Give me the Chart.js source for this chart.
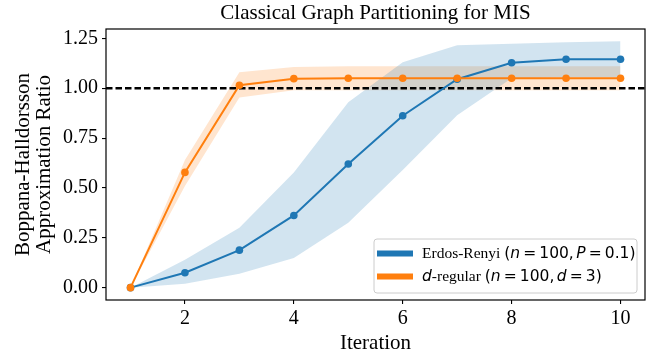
<!DOCTYPE html>
<html>
<head>
<meta charset="utf-8">
<script src="https://cdn.jsdelivr.net/npm/chart.js@4/dist/chart.umd.min.js"></script>
<style>
html,body{margin:0;padding:0;background:#fff;}
#wrap{width:654px;height:358px;position:relative;}
</style>
</head>
<body>
<div id="wrap"><canvas id="c" width="654" height="358"></canvas></div>
<script>
const iterations = [1, 2, 3, 4, 5, 6, 7, 8, 9, 10];
const erdosMean  = [0, 0.075, 0.188, 0.362, 0.62, 0.862, 1.045, 1.128, 1.145, 1.145];
const erdosLower = [0, 0.02, 0.07, 0.148, 0.325, 0.59, 0.865, 1.05, 1.055, 1.055];
const erdosUpper = [0, 0.14, 0.30, 0.577, 0.93, 1.13, 1.215, 1.223, 1.23, 1.235];
const regularMean  = [0, 0.578, 1.015, 1.048, 1.05, 1.05, 1.05, 1.05, 1.05, 1.05];
const regularLower = [0, 0.51, 0.953, 0.99, 0.99, 0.99, 0.99, 0.99, 0.99, 0.99];
const regularUpper = [0, 0.64, 1.08, 1.107, 1.11, 1.11, 1.11, 1.11, 1.11, 1.11];
const xTicks = [2, 4, 6, 8, 10];
const yTicks = [0, 0.25, 0.5, 0.75, 1.0, 1.25];
const referenceLine = 1.0;

const titleText = 'Classical Graph Partitioning for MIS';
const xLabel = 'Iteration';
const yLabelLines = ['Boppana-Halldorsson', 'Approximation Ratio'];

const BLUE = '#1f77b4', ORANGE = '#ff7f0e';
const SERIF = '"Liberation Serif", "Times New Roman", serif';
const SANS = '"DejaVu Sans", sans-serif';

const pts = (ys) => iterations.map((x, i) => ({x: x, y: ys[i]}));

const decor = {
  id: 'decor',
  beforeDatasetsDraw(chart) {
    const {ctx, chartArea: a, scales: {y}} = chart;
    const yy = y.getPixelForValue(referenceLine);
    ctx.save();
    ctx.beginPath();
    ctx.rect(a.left, a.top, a.right - a.left, a.bottom - a.top);
    ctx.clip();
    ctx.strokeStyle = '#000';
    ctx.lineWidth = 2.5;
    ctx.setLineDash([6.5, 3]);
    ctx.beginPath();
    ctx.moveTo(a.left, yy);
    ctx.lineTo(a.right, yy);
    ctx.stroke();
    ctx.restore();
  },
  afterDatasetsDraw(chart) {
    const {ctx, chartArea: a} = chart;
    ctx.save();
    ctx.strokeStyle = '#000';
    ctx.lineWidth = 1.2;
    ctx.strokeRect(a.left, a.top, a.right - a.left, a.bottom - a.top);
    ctx.restore();
  },
  afterDraw(chart) {
    const {ctx, chartArea: a} = chart;
    const cx = (a.left + a.right) / 2;
    const cy = (a.top + a.bottom) / 2;
    ctx.save();
    ctx.fillStyle = '#000';
    ctx.textAlign = 'center';
    ctx.textBaseline = 'middle';
    ctx.font = '21px ' + SERIF;
    ctx.fillText(titleText, cx, 13);
    ctx.fillText(xLabel, cx, 343);
    ctx.save();
    ctx.translate(23, cy);
    ctx.rotate(-Math.PI / 2);
    ctx.fillText(yLabelLines[0], 0, 0);
    ctx.fillText(yLabelLines[1], 0, 21);
    ctx.restore();

    // legend
    const bx = 374, by = 239, bw = 263, bh = 54, r = 3;
    ctx.beginPath();
    ctx.moveTo(bx + r, by);
    ctx.lineTo(bx + bw - r, by);
    ctx.quadraticCurveTo(bx + bw, by, bx + bw, by + r);
    ctx.lineTo(bx + bw, by + bh - r);
    ctx.quadraticCurveTo(bx + bw, by + bh, bx + bw - r, by + bh);
    ctx.lineTo(bx + r, by + bh);
    ctx.quadraticCurveTo(bx, by + bh, bx, by + bh - r);
    ctx.lineTo(bx, by + r);
    ctx.quadraticCurveTo(bx, by, bx + r, by);
    ctx.closePath();
    ctx.fillStyle = 'rgba(255,255,255,0.8)';
    ctx.fill();
    ctx.strokeStyle = '#cccccc';
    ctx.lineWidth = 1;
    ctx.stroke();

    const MS = 15.5;
    const rows = [
      {color: BLUE, y: 253.5, segs: [
        ['Erdos-Renyi ', SERIF, '', 0], ['(', SANS, '', 0], ['n', SANS, 'italic ', 0.2], ['=', SANS, '', 0.2],
        ['100,', SANS, '', 0.16], ['P', SANS, 'italic ', 0.2], ['=', SANS, '', 0.2], ['0.1)', SANS, '', 0]]},
      {color: ORANGE, y: 276.5, segs: [
        ['d', SANS, 'italic ', 0], ['-regular ', SERIF, '', 0], ['(', SANS, '', 0], ['n', SANS, 'italic ', 0.2],
        ['=', SANS, '', 0.2], ['100,', SANS, '', 0.16], ['d', SANS, 'italic ', 0.2], ['=', SANS, '', 0.2],
        ['3)', SANS, '', 0]]}
    ];
    rows.forEach(row => {
      ctx.strokeStyle = row.color;
      ctx.lineWidth = 6;
      ctx.setLineDash([]);
      ctx.beginPath();
      ctx.moveTo(377, row.y);
      ctx.lineTo(413, row.y);
      ctx.stroke();
      let x = 422;
      ctx.textAlign = 'left';
      ctx.textBaseline = 'middle';
      ctx.fillStyle = '#000';
      row.segs.forEach(([t, f, st, gap]) => {
        ctx.font = st + (f === SERIF ? '15.5px ' : MS + 'px ') + f;
        ctx.fillText(t, x, row.y);
        x += ctx.measureText(t).width + gap * MS;
      });
    });
    ctx.restore();
  }
};

new Chart(document.getElementById('c'), {
  type: 'line',
  data: {
    datasets: [
      {label: 'd-regular (n = 100, d = 3)', data: pts(regularMean), borderColor: ORANGE, backgroundColor: ORANGE,
       borderWidth: 2, pointRadius: 3.8, pointBorderWidth: 0, fill: false, tension: 0},
      {label: 'Erdos-Renyi (n = 100, P = 0.1)', data: pts(erdosMean), borderColor: BLUE, backgroundColor: BLUE,
       borderWidth: 2, pointRadius: 3.8, pointBorderWidth: 0, fill: false, tension: 0},
      {label: 'eu', data: pts(erdosUpper), borderWidth: 0, borderColor: 'rgba(0,0,0,0)', pointRadius: 0, fill: false},
      {label: 'el', data: pts(erdosLower), borderWidth: 0, borderColor: 'rgba(0,0,0,0)', pointRadius: 0,
       fill: '-1', backgroundColor: 'rgba(31,119,180,0.2)'},
      {label: 'ru', data: pts(regularUpper), borderWidth: 0, borderColor: 'rgba(0,0,0,0)', pointRadius: 0, fill: false},
      {label: 'rl', data: pts(regularLower), borderWidth: 0, borderColor: 'rgba(0,0,0,0)', pointRadius: 0,
       fill: '-1', backgroundColor: 'rgba(255,127,14,0.2)'}
    ]
  },
  options: {
    responsive: false,
    animation: false,
    events: [],
    layout: {padding: {left: 0, right: 9, top: 29, bottom: 0}},
    plugins: {
      legend: {display: false},
      title: {display: false},
      tooltip: {enabled: false},
      filler: {drawTime: 'beforeDatasetsDraw'}
    },
    scales: {
      x: {
        type: 'linear', min: 0.55, max: 10.45,
        afterBuildTicks: s => { s.ticks = xTicks.map(v => ({value: v})); },
        afterFit: s => { s.height = 58; },
        border: {display: false},
        grid: {display: true, drawOnChartArea: false, drawTicks: true, tickLength: 4, color: '#000', lineWidth: 1.1},
        ticks: {font: {family: SERIF, size: 20}, color: '#000', padding: 3, maxRotation: 0,
                callback: v => String(v)}
      },
      y: {
        type: 'linear', min: -0.062, max: 1.297,
        afterBuildTicks: s => { s.ticks = yTicks.map(v => ({value: v})); },
        afterFit: s => { s.width = 106; },
        border: {display: false},
        grid: {display: true, drawOnChartArea: false, drawTicks: true, tickLength: 4, color: '#000', lineWidth: 1.1},
        ticks: {font: {family: SERIF, size: 20}, color: '#000', padding: 4,
                callback: v => Number(v).toFixed(2)}
      }
    }
  },
  plugins: [decor]
});
</script>
</body>
</html>
